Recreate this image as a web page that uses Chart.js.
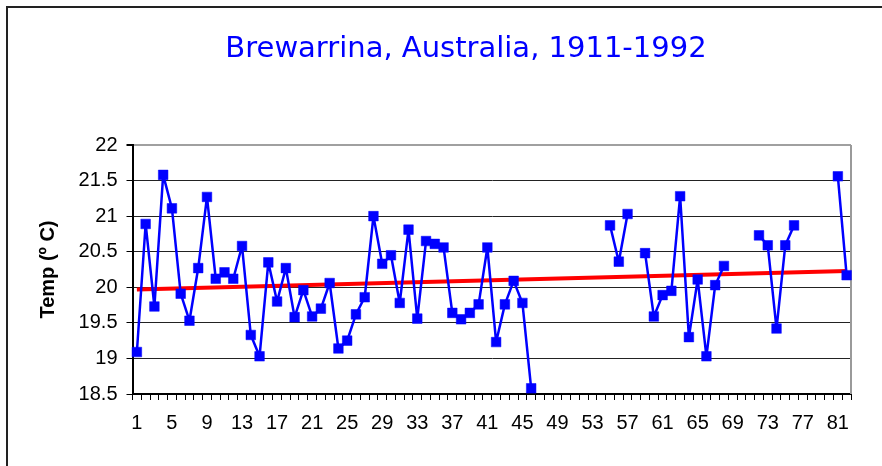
<!DOCTYPE html>
<html>
<head>
<meta charset="utf-8">
<script src="https://cdn.jsdelivr.net/npm/chart.js@4.4.1/dist/chart.umd.min.js"></script>
<style>
  html, body { margin: 0; padding: 0; background: #fff; }
  #wrap { width: 882px; height: 466px; }
</style>
</head>
<body>
<div id="wrap"><canvas id="c" width="882" height="466"></canvas></div>
<script>
const chartTitle = 'Brewarrina, Australia, 1911-1992';
const yAxisTitle = 'Temp (º C)';
const categories = ['1','2','3','4','5','6','7','8','9','10','11','12','13','14','15','16','17','18','19','20',
  '21','22','23','24','25','26','27','28','29','30','31','32','33','34','35','36','37','38','39','40',
  '41','42','43','44','45','46','47','48','49','50','51','52','53','54','55','56','57','58','59','60',
  '61','62','63','64','65','66','67','68','69','70','71','72','73','74','75','76','77','78','79','80',
  '81','82'];
const tickLabels = ['1','5','9','13','17','21','25','29','33','37','41','45','49','53','57','61','65','69','73','77','81'];
const temps = [19.09,20.89,19.73,21.58,21.11,19.91,19.53,20.27,21.27,20.12,
  20.21,20.12,20.58,19.33,19.03,20.35,19.80,20.27,19.58,19.96,
  19.59,19.70,20.06,19.14,19.25,19.62,19.86,21.00,20.33,20.45,
  19.78,20.81,19.56,20.65,20.61,20.56,19.64,19.55,19.64,19.76,
  20.56,19.23,19.76,20.09,19.78,18.58,null,null,null,null,
  null,null,null,null,20.87,20.36,21.03,null,20.48,19.59,
  19.89,19.95,21.28,19.30,20.11,19.03,20.03,20.30,null,null,
  null,20.73,20.59,19.42,20.59,20.87,null,null,null,null,
  21.56,20.17];
const trendX = ['1','82'];
const trendY = [19.97, 20.23];
const yTicks = [18.5, 19, 19.5, 20, 20.5, 21, 21.5, 22];
const yTickLabels = ['18.5','19','19.5','20','20.5','21','21.5','22'];

const frame = {
  id: 'frame',
  beforeDraw(chart) {
    const ctx = chart.ctx;
    ctx.save();
    ctx.fillStyle = '#ffffff';
    ctx.fillRect(0, 0, chart.width, chart.height);
    ctx.strokeStyle = '#222';
    ctx.lineWidth = 2;
    ctx.beginPath();
    ctx.moveTo(7, chart.height + 2);
    ctx.lineTo(7, 7);
    ctx.lineTo(chart.width + 2, 7);
    ctx.stroke();
    ctx.restore();
  },
  beforeDatasetsDraw(chart) {
    const {ctx, chartArea} = chart;
    ctx.save();
    ctx.strokeStyle = '#9a9a9a';
    ctx.lineWidth = 2;
    ctx.beginPath();
    ctx.moveTo(chartArea.right, chartArea.top);
    ctx.lineTo(chartArea.right, chartArea.bottom);
    ctx.stroke();
    ctx.restore();
  },
  afterDraw(chart) {
    const ctx = chart.ctx;
    ctx.save();
    ctx.fillStyle = '#0000FF';
    ctx.font = '29px "Comic Sans MS", "DejaVu Sans", sans-serif';
    ctx.textAlign = 'center';
    ctx.textBaseline = 'alphabetic';
    ctx.fillText(chartTitle, 466, 57);
    ctx.restore();
  }
};

new Chart(document.getElementById('c'), {
  type: 'line',
  data: {
    labels: categories,
    datasets: [
      {
        data: temps,
        borderColor: '#0000FF',
        backgroundColor: '#0000FF',
        borderWidth: 2.5,
        borderJoinStyle: 'round',
        borderCapStyle: 'round',
        pointStyle: 'rect',
        pointRadius: 6.8,
        pointBorderWidth: 0.5,
        pointBackgroundColor: '#0000FF',
        pointBorderColor: '#0000FF',
        tension: 0,
        spanGaps: false,
        order: 0
      },
      {
        data: trendX.map((x, i) => ({x: x, y: trendY[i]})),
        borderColor: '#FF0000',
        borderWidth: 4,
        pointRadius: 0,
        tension: 0,
        order: 1
      }
    ]
  },
  plugins: [frame],
  options: {
    responsive: false,
    animation: false,
    devicePixelRatio: 1,
    layout: { padding: { left: 36, top: 145, right: 31, bottom: 0 } },
    plugins: { legend: { display: false }, tooltip: { enabled: false }, title: { display: false } },
    scales: {
      x: {
        type: 'category',
        offset: true,
        grid: { offset: true, drawOnChartArea: false, drawTicks: true, tickLength: 6, color: '#000', lineWidth: 1 },
        border: { color: '#000', width: 2 },
        ticks: {
          autoSkip: false, maxRotation: 0, minRotation: 0, padding: 11, color: '#000',
          font: { family: '"Liberation Sans", Arial, sans-serif', size: 20 },
          callback: function(v, i) { const l = categories[i]; return tickLabels.includes(l) ? l : ''; }
        },
        afterFit: s => { s.height = 72; }
      },
      y: {
        min: 18.5, max: 22,
        afterBuildTicks: s => { s.ticks = yTicks.map(v => ({value: v})); },
        grid: {
          color: c => (c.tick && c.tick.value === 22) ? '#a0a0a0' : '#222',
          lineWidth: c => (c.tick && c.tick.value === 22) ? 2 : 1,
          tickColor: '#000', tickLength: 6, drawTicks: true
        },
        border: { color: '#000', width: 2 },
        ticks: {
          padding: 9, color: '#000',
          font: { family: '"Liberation Sans", Arial, sans-serif', size: 20 },
          callback: function(v, i) { return yTickLabels[yTicks.indexOf(v)]; }
        },
        title: {
          display: true, text: yAxisTitle, color: '#000', padding: 0,
          font: { family: '"Liberation Sans", Arial, sans-serif', size: 20, weight: 'bold' }
        },
        afterFit: s => { s.width = 96.5; }
      }
    }
  }
});
</script>
</body>
</html>
